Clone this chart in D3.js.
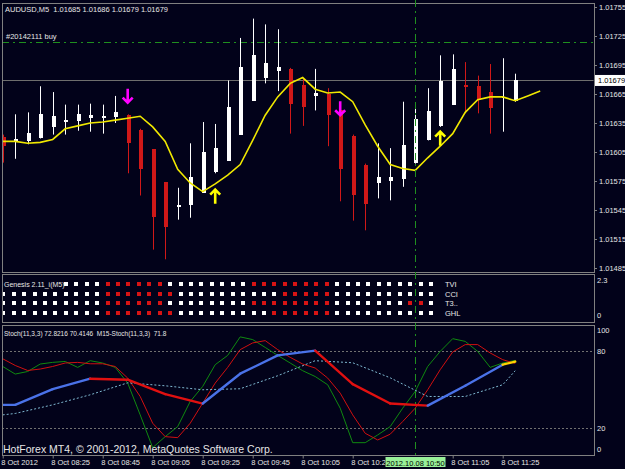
<!DOCTYPE html>
<html>
<head>
<meta charset="utf-8">
<script src="https://cdn.jsdelivr.net/npm/d3@7/dist/d3.min.js"></script>
<style>
  html, body { margin: 0; padding: 0; background: #02021a; }
  svg { display: block; font-family: "Liberation Sans", Arial, sans-serif; }
  text { white-space: pre; }
</style>
</head>
<body>
<svg id="chart" width="625" height="469"></svg>
<script>
// AUDUSD M5, bars from 08:05 on 8 Oct 2012
const opens  = [1.01621, 1.01615, 1.01616, 1.01620, 1.01631, 1.01637, 1.01637, 1.01640, 1.01641, 1.01641,
                1.01643, 1.01628, 1.01608, 1.01574, 1.01549, 1.01550, 1.01563, 1.01584, 1.01596, 1.01623,
                1.01658, 1.01682, 1.01689, 1.01691, 1.01674, 1.01663, 1.01665, 1.01648, 1.01622, 1.01592,
                1.01573, 1.01575, 1.01577, 1.01594, 1.01617, 1.01632, 1.01654, 1.01674, 1.01673, 1.01667,
                1.01661, 1.01658];
const highs  = [1.01623, 1.01644, 1.01646, 1.01673, 1.01667, 1.01654, 1.01654, 1.01655, 1.01654, 1.01663,
                1.01644, 1.01629, 1.01608, 1.01574, 1.01568, 1.01614, 1.01636, 1.01634, 1.01679, 1.01723,
                1.01743, 1.01737, 1.01732, 1.01692, 1.01681, 1.01691, 1.01671, 1.01650, 1.01623, 1.01593,
                1.01614, 1.01609, 1.01657, 1.01655, 1.01671, 1.01705, 1.01706, 1.01698, 1.01684, 1.01696,
                1.01702, 1.01686];
const lows   = [1.01594, 1.01598, 1.01613, 1.01619, 1.01623, 1.01623, 1.01627, 1.01626, 1.01624, 1.01635,
                1.01583, 1.01560, 1.01504, 1.01494, 1.01535, 1.01537, 1.01563, 1.01583, 1.01596, 1.01623,
                1.01658, 1.01676, 1.01668, 1.01624, 1.01632, 1.01648, 1.01611, 1.01554, 1.01534, 1.01524,
                1.01557, 1.01555, 1.01569, 1.01593, 1.01617, 1.01631, 1.01654, 1.01645, 1.01645, 1.01624,
                1.01626, 1.01657];
const closes = [1.01611, 1.01618, 1.01625, 1.01644, 1.01642, 1.01638, 1.01644, 1.01643, 1.01642, 1.01646,
                1.01614, 1.01587, 1.01538, 1.01527, 1.01550, 1.01579, 1.01605, 1.01609, 1.01652, 1.01693,
                1.01705, 1.01697, 1.01693, 1.01655, 1.01652, 1.01666, 1.01643, 1.01587, 1.01561, 1.01551,
                1.01579, 1.01579, 1.01612, 1.01639, 1.01647, 1.01678, 1.01691, 1.01672, 1.01659, 1.01651,
                1.01662, 1.01679];

// yellow moving average (runs 2 bars past the last candle)
const maLine = [1.01616, 1.01616, 1.01614, 1.01615, 1.01618, 1.01629, 1.01632, 1.01635, 1.01636, 1.01638,
                1.01640, 1.01642, 1.01631, 1.01616, 1.01587, 1.01573, 1.01564, 1.01572, 1.01581, 1.01592,
                1.01617, 1.01643, 1.01662, 1.01676, 1.01682, 1.01670, 1.01666, 1.01667, 1.01657, 1.01633,
                1.01611, 1.01592, 1.01588, 1.01586, 1.01599, 1.01611, 1.01624, 1.01646, 1.01659, 1.01662,
                1.01662, 1.01658, 1.01663, 1.01668];

// signal arrows
const sellArrowBars = [10, 27];
const sellArrowPrices = [1.01656, 1.01643];
const buyArrowBars = [17, 35];
const buyArrowPrices = [1.01566, 1.01626];

const titleValues = ['1.01685', '1.01686', '1.01679', '1.01679'];
const orderPrice = 1.01719;
const orderLabel = '#20142111 buy';
const bidPrice = 1.01679;
const cursorBar = 33;
const cursorLabel = '2012.10.08 10:50';

const priceTicks = [1.01755, 1.01725, 1.01695, 1.01665, 1.01635, 1.01605, 1.01575, 1.01545, 1.01515, 1.01485];
const timeTickBars = [0, 4, 8, 12, 16, 20, 24, 28, 36, 40];
const timeTickLabels = ['8 Oct 2012', '8 Oct 08:25', '8 Oct 08:45', '8 Oct 09:05', '8 Oct 09:25', '8 Oct 09:45',
                        '8 Oct 10:05', '8 Oct 10:25', '8 Oct 11:05', '8 Oct 11:25'];

// Genesis matrix rows (1 = red, 0 = white)
const matrixNames = ['TVI', 'CCI', 'T3..', 'GHL'];
const matrixRows = [
  '000000000011111100000000111111110000000000',
  '000000000011111110000000000111110000000000',
  '000000000011111100000000111111110000000110',
  '000000000011111110000000001111110000000000'
];
const matrixTitle = 'Genesis 2.11_i(M5)';
const matrixTicks = ['2.3', '0'];

// Stochastic M5
const stochMain   = [68.0, 62.1, 64.1, 69.9, 71.2, 71.9, 67.3, 72.5, 70.7, 67.3,
                     55.1, 30.4, 4.9, 13.5, 21.3, 40.8, 52.5, 69.4, 76.6, 91.0,
                     88.9, 82.8, 76.6, 70.7, 64.7, 60.2, 53.8, 35.6, 8.8, 8.8,
                     14.8, 21.3, 35.6, 48.6, 68.0, 79.7, 89.6, 87.5, 79.7, 67.3,
                     70.7, 72.8];
const stochSignal = [74.0, 68.8, 64.9, 66.0, 68.0, 70.7, 71.2, 70.1, 70.1, 68.0,
                     59.0, 44.7, 23.9, 13.5, 12.7, 23.9, 39.5, 55.1, 67.3, 81.1,
                     86.3, 88.1, 81.1, 75.1, 69.9, 66.8, 59.0, 47.3, 30.4, 16.1,
                     10.9, 15.4, 25.2, 35.6, 49.9, 65.5, 79.3, 85.0, 85.0, 78.5,
                     73.3, 70.4];
// Stochastic M15 (one point per M15 bar)
const m15Bars   = [0, 1, 4, 7, 10, 13, 16, 19, 22, 25, 28, 31, 34, 37, 40, 41];
const m15Main   = [38.2, 38.2, 50.4, 58.5, 57.7, 46.5, 39.2, 62.4, 76.6, 80.3, 54.3, 39.2, 37.6, 53.0, 69.4, 71.8];
const m15Signal = [30.4, 31.5, 38.2, 46.0, 55.3, 53.0, 49.9, 50.7, 60.8, 72.5, 70.9, 59.2, 44.7, 44.7, 53.8, 64.7];
const stochTitle = 'Stoch(11,3,3) 72.8216 70.4146  M15-Stoch(11,3,3)  71.8';
const stochLevels = [80, 20];
const stochTicks = [100, 80, 20, 0];

const colors = {
  bg: '#02021a',
  frame: '#808080',
  text: '#e6e6e6',
  bull: '#ffffff',
  bear: '#d01818',
  ma: '#f0e800',
  sellArrow: '#ff00ff',
  buyArrow: '#ffff00',
  order: '#1f8f1f',
  bid: '#6e6e6e',
  stochMain: '#108a10',
  stochSignal: '#d01010',
  m15Up: '#4a72e8',
  m15Down: '#e01010',
  m15Last: '#ffd200',
  m15Signal: '#7fb8d0',
  level: '#707070',
  matRed: '#d81414',
  matWhite: '#ffffff'
};

const svg = d3.select('#chart');
const plot = { left: 2, right: 594 };
const panels = {
  main: { top: 3, bottom: 272 },
  matrix: { top: 274, bottom: 322 },
  stoch: { top: 325, bottom: 455 }
};

svg.append('rect').attr('width', 625).attr('height', 469).attr('fill', colors.bg);

// scales
const x = d3.scaleLinear().domain([0, 41]).range([2.7, 515.2]);
const yPrice = d3.scaleLinear().domain([1.01485, 1.01755]).range([268, 7]);
const yMat = d3.scaleLinear().domain([0, 2.3]).range([321, 275]);
const yStoch = d3.scaleLinear().domain([0, 100]).range([454, 325.3]);
const xMat = d3.scaleLinear().domain([0, 41]).range([3.2, 431]);

const cx = Math.round(x(cursorBar)) + 0.5;

// clip paths per panel
const defs = svg.append('defs');
Object.entries(panels).forEach(([k, p]) => {
  defs.append('clipPath').attr('id', 'clip-' + k)
    .append('rect')
    .attr('x', plot.left + 0.5).attr('y', p.top + 0.5)
    .attr('width', plot.right - plot.left - 1).attr('height', p.bottom - p.top - 1);
});
// time labels are hidden where the cursor date box sits
const timeClip = defs.append('clipPath').attr('id', 'clip-time');
timeClip.append('rect').attr('x', 0).attr('y', 0).attr('width', cx - 30).attr('height', 469);
timeClip.append('rect').attr('x', cx + 30).attr('y', 0).attr('width', 625).attr('height', 469);

// ---------- main panel ----------
const main = svg.append('g').attr('clip-path', 'url(#clip-main)');

main.append('line')
  .attr('x1', plot.left).attr('x2', plot.right)
  .attr('y1', Math.round(yPrice(bidPrice)) + 0.5).attr('y2', Math.round(yPrice(bidPrice)) + 0.5)
  .attr('stroke', colors.bid).attr('stroke-width', 1);

main.append('line')
  .attr('x1', plot.left).attr('x2', plot.right)
  .attr('y1', Math.round(yPrice(orderPrice)) + 0.5).attr('y2', Math.round(yPrice(orderPrice)) + 0.5)
  .attr('stroke', colors.order).attr('stroke-width', 1)
  .attr('stroke-dasharray', '7,4,2,4');

main.append('text')
  .attr('x', 6).attr('y', yPrice(orderPrice) - 3)
  .attr('fill', colors.text).attr('font-size', 7.5)
  .text(orderLabel);

const bars = d3.range(opens.length).map(i => ({
  i, o: opens[i], h: highs[i], l: lows[i], c: closes[i]
}));

const candle = main.selectAll('g.candle').data(bars).join('g').attr('class', 'candle');
candle.append('line')
  .attr('x1', d => Math.round(x(d.i)) + 0.5).attr('x2', d => Math.round(x(d.i)) + 0.5)
  .attr('y1', d => yPrice(d.h)).attr('y2', d => yPrice(d.l))
  .attr('stroke', d => d.c >= d.o ? colors.bull : colors.bear);
candle.append('rect')
  .attr('x', d => Math.round(x(d.i)) - 1.5)
  .attr('y', d => yPrice(Math.max(d.o, d.c)))
  .attr('width', 4)
  .attr('height', d => Math.max(1.5, Math.abs(yPrice(d.o) - yPrice(d.c))))
  .attr('shape-rendering', 'crispEdges')
  .attr('fill', d => d.c >= d.o ? colors.bull : colors.bear);

main.append('path')
  .datum(maLine)
  .attr('fill', 'none')
  .attr('stroke', colors.ma)
  .attr('stroke-width', 1.6)
  .attr('d', d3.line().x((d, i) => x(i)).y(d => yPrice(d)));

function arrowPath(ax, tipY, dir) {
  // dir = 1: down arrow (tip at bottom), -1: up arrow (tip at top)
  const len = 14, head = 5;
  return `M${ax},${tipY - dir * len}L${ax},${tipY}` +
         `M${ax - head},${tipY - dir * head}L${ax},${tipY}L${ax + head},${tipY - dir * head}`;
}
main.selectAll('path.sell').data(sellArrowBars).join('path')
  .attr('class', 'sell')
  .attr('d', (b, k) => arrowPath(x(b), yPrice(sellArrowPrices[k]), 1))
  .attr('fill', 'none').attr('stroke', colors.sellArrow).attr('stroke-width', 2.6);
main.selectAll('path.buy').data(buyArrowBars).join('path')
  .attr('class', 'buy')
  .attr('d', (b, k) => arrowPath(x(b), yPrice(buyArrowPrices[k]), -1))
  .attr('fill', 'none').attr('stroke', colors.buyArrow).attr('stroke-width', 2.6);

svg.append('text')
  .attr('x', 5).attr('y', 12)
  .attr('fill', colors.text).attr('font-size', 7.5)
  .text('AUDUSD,M5  ' + titleValues.join(' '));

// price axis
const priceAxis = svg.append('g')
  .attr('transform', `translate(${plot.right},0)`)
  .call(d3.axisRight(yPrice).tickValues(priceTicks).tickFormat(d3.format('.5f')).tickSize(3).tickPadding(2));
priceAxis.select('.domain').remove();
priceAxis.selectAll('line').attr('stroke', colors.frame);
priceAxis.selectAll('text').attr('fill', colors.text).attr('font-size', 7.5).attr('font-family', 'Liberation Sans, Arial, sans-serif');

const bidY = yPrice(bidPrice);
svg.append('rect').attr('x', 595).attr('y', bidY - 5.5).attr('width', 30).attr('height', 11).attr('fill', '#ffffff');
svg.append('text').attr('x', 598).attr('y', bidY + 3).attr('fill', '#000000').attr('font-size', 7.5)
  .text(d3.format('.5f')(bidPrice));

// ---------- matrix panel ----------
const mat = svg.append('g').attr('clip-path', 'url(#clip-matrix)');
const rowY = [284, 293.7, 303.3, 313];
matrixRows.forEach((row, r) => {
  // first cells of the top row sit under the indicator title
  const cells = row.split('').map((v, i) => ({ i, v: +v })).filter(d => !(r === 0 && d.i < 6));
  mat.selectAll(`rect.row${r}`).data(cells).join('rect')
    .attr('class', `row${r}`)
    .attr('x', d => Math.round(xMat(d.i)) - 2)
    .attr('y', Math.round(rowY[r]) - 2)
    .attr('width', 4).attr('height', 4)
    .attr('fill', d => d.v ? colors.matRed : colors.matWhite);
  svg.append('text')
    .attr('x', 445).attr('y', rowY[r] + 3)
    .attr('fill', colors.text).attr('font-size', 7.5)
    .text(matrixNames[r]);
});
svg.append('text')
  .attr('x', 4).attr('y', 286.5)
  .attr('fill', colors.text).attr('font-size', 7)
  .text(matrixTitle);
svg.append('text').attr('x', 597).attr('y', yMat(2.3) + 8).attr('fill', colors.text).attr('font-size', 7.5).text(matrixTicks[0]);
svg.append('text').attr('x', 597).attr('y', yMat(0) - 3).attr('fill', colors.text).attr('font-size', 7.5).text(matrixTicks[1]);

// ---------- stochastic panel ----------
const st = svg.append('g').attr('clip-path', 'url(#clip-stoch)');
stochLevels.forEach(v => {
  st.append('line')
    .attr('x1', plot.left).attr('x2', plot.right)
    .attr('y1', Math.round(yStoch(v)) + 0.5).attr('y2', Math.round(yStoch(v)) + 0.5)
    .attr('stroke', colors.level).attr('stroke-dasharray', '2,2');
});

const stLine = d3.line().x((d, i) => x(i)).y(d => yStoch(d));
st.append('path').datum(stochMain).attr('fill', 'none').attr('stroke', colors.stochMain).attr('stroke-width', 1).attr('d', stLine);
st.append('path').datum(stochSignal).attr('fill', 'none').attr('stroke', colors.stochSignal).attr('stroke-width', 1).attr('d', stLine);

const m15Line = d3.line().x(d => x(d[0])).y(d => yStoch(d[1]));
st.append('path')
  .datum(m15Bars.map((b, k) => [b, m15Signal[k]]))
  .attr('fill', 'none').attr('stroke', colors.m15Signal).attr('stroke-width', 1)
  .attr('stroke-dasharray', '2,2').attr('d', m15Line);

// thick M15 line: blue when rising, red when falling, last piece yellow
const segs = d3.range(m15Bars.length - 1).map(k => ({
  pts: [[m15Bars[k], m15Main[k]], [m15Bars[k + 1], m15Main[k + 1]]],
  color: k === m15Bars.length - 2 ? colors.m15Last
       : (m15Main[k + 1] < m15Main[k] ? colors.m15Down : colors.m15Up)
}));
st.selectAll('path.m15').data(segs).join('path')
  .attr('class', 'm15')
  .attr('fill', 'none')
  .attr('stroke', d => d.color)
  .attr('stroke-width', 2.4)
  .attr('stroke-linecap', 'round')
  .attr('d', d => m15Line(d.pts));

svg.append('text')
  .attr('x', 4).attr('y', 336)
  .attr('fill', colors.text).attr('font-size', 6.5)
  .text(stochTitle);

stochTicks.forEach(v => {
  const dy = v === 100 ? 8 : v === 0 ? -2 : 3;
  svg.append('text').attr('x', 597).attr('y', yStoch(v) + dy)
    .attr('fill', colors.text).attr('font-size', 7.5).text(v);
});

svg.append('text')
  .attr('x', 3).attr('y', 453)
  .attr('fill', colors.text).attr('font-size', 10.5)
  .text('HotForex MT4, \u00a9 2001-2012, MetaQuotes Software Corp.');

// ---------- frames ----------
Object.values(panels).forEach(p => {
  svg.append('rect')
    .attr('x', plot.left + 0.5).attr('y', p.top + 0.5)
    .attr('width', plot.right - plot.left).attr('height', p.bottom - p.top)
    .attr('fill', 'none').attr('stroke', colors.frame);
});

// time axis
const timeAxis = svg.append('g')
  .attr('clip-path', 'url(#clip-time)')
  .append('g')
  .attr('transform', `translate(0,${panels.stoch.bottom + 0.5})`)
  .call(d3.axisBottom(x).tickValues(timeTickBars).tickFormat((d, k) => timeTickLabels[k]).tickSize(3).tickPadding(1));
timeAxis.select('.domain').remove();
timeAxis.selectAll('line').attr('stroke', colors.frame);
timeAxis.selectAll('text')
  .attr('fill', colors.text).attr('font-size', 7.5)
  .attr('font-family', 'Liberation Sans, Arial, sans-serif')
  .attr('text-anchor', 'start').attr('dx', -2);

// cursor line across all panels
svg.append('line')
  .attr('x1', cx).attr('x2', cx).attr('y1', 0).attr('y2', panels.stoch.bottom)
  .attr('stroke', colors.order).attr('stroke-width', 1)
  .attr('stroke-dasharray', '7,4,2,4');
svg.append('rect').attr('x', cx - 30).attr('y', 457).attr('width', 60).attr('height', 10).attr('fill', '#98f098');
svg.append('text').attr('x', cx).attr('y', 465.5).attr('text-anchor', 'middle')
  .attr('fill', '#000000').attr('font-size', 7.5).text(cursorLabel);
</script>
</body>
</html>
